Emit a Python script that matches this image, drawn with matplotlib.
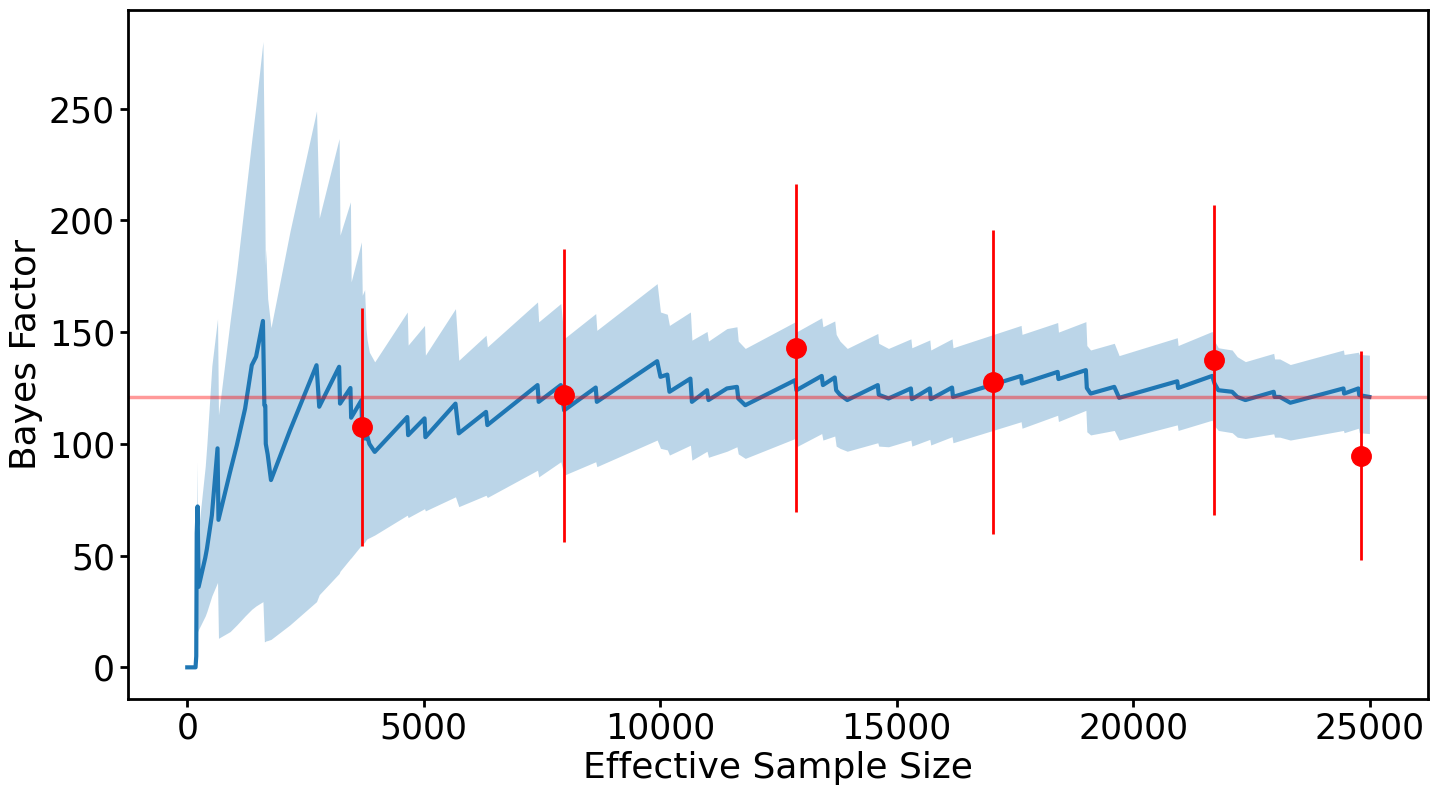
import numpy as np
import matplotlib
matplotlib.use("Agg")
import matplotlib.pyplot as plt

nan = np.nan

# running estimate: effective sample size, Bayes factor, band upper / lower
ess = [0, 175, 190, 200, 218, 240, 380, 415, 520, 640, 660, 906, 1048, 1223, 1364,
       1455, 1600, 1630, 1650, 1660, 1700, 1770, 2171, 2733, 2790, 3211, 3230,
       3450, 3465, 3682, 3700, 3750, 3780, 3800, 3850, 3963, 4652, 4670, 5017,
       5035, 5671, 5741, 6317, 6345, 7406, 7430, 7898, 7968, 8636, 8660, 9935,
       10005, 10150, 10195, 10638, 10670, 10990, 11020, 11411, 11622, 11650,
       11798, 12852, 12880, 13414, 13440, 13690, 13720, 13800, 13955, 14600,
       14620, 14826, 15300, 15320, 15700, 15720, 16170, 16190, 17630, 17650,
       18403, 18420, 19000, 19020, 19100, 19600, 19703, 20932, 20950, 21670,
       21720, 21800, 22092, 22200, 22373, 22971, 22990, 23100, 23322, 24446,
       24460, 24762, 24780, 24994]
bf = [0, 0, 5, 60, 72, 36, 49, 53, 68, 98, 66, 87.5, 99.4, 115.8, 135.2,
      139, 155, 117.3, 117, 100, 95.3, 83.8, 106, 135.2, 116.6, 134.5, 118,
      125, 111.7, 119.5, 106, 102.4, 102.4, 103.9, 100, 96.4, 112, 103.9, 111.4,
      103, 118, 104.7, 114.3, 108.4, 126.3, 118.8, 126.3, 115, 125.2, 118.8, 137,
      130, 131, 123.3, 129.2, 118.8, 124, 119.6, 124.8, 125.5, 120.3,
      117.3, 128.5, 124, 130.4, 126.3, 129.7, 124, 122, 119.6, 126.3,
      122, 120.3, 124.8, 120, 124.8, 120, 125.2, 121, 130.4, 127,
      132.2, 129, 133, 125, 122.5, 125.5, 120.6, 128, 125, 130.4,
      127, 124, 123.3, 121, 119.6, 123.3, 121, 121, 118.4, 124.8,
      122.5, 124.8, 121.8, 121]
bf_hi = [nan, nan, 20, 92, 60, 62, 90, 100, 135, 156, 113, 155, 178, 210, 236,
         252, 280, 226, 180, 187, 165, 152, 195, 249, 201, 236.6, 193.4,
         208.3, 172.5, 190.4, 166.5, 169, 151.6, 147, 141, 136.7, 159, 144.2, 153,
         139.7, 160.5, 137.4, 148.6, 143.4, 163.5, 154.6, 162.8, 147.1, 158.3, 150.8, 171.7,
         159, 158, 153, 159, 146.4, 150.3, 146, 151.6, 152.4, 146,
         142.7, 154.6, 150.1, 156.4, 152.4, 155, 149, 146, 142.7, 149.4,
         145, 142.7, 147, 143, 146.5, 142, 147, 143, 153, 149,
         154.3, 150, 154.7, 144, 142, 145, 139.5, 147.5, 144, 150.3,
         146, 143, 142, 139, 136.8, 140.5, 138, 138, 135.5, 142,
         140, 141, 140, 139.7]
bf_lo = [nan, nan, 14, 15, 16, 17, 23, 25, 32, 38, 13, 16, 19, 23, 26,
         27.5, 29.4, 11.5, 11.5, 11.8, 12, 12.5, 19, 29.4, 32.5, 42, 43,
         48.7, 49, 54.7, 55, 56, 57, 57.5, 58, 59.2, 68.1, 67, 71,
         70, 76.3, 71.9, 77, 76, 88.2, 85.2, 92, 86, 92, 89.8, 101.7,
         98, 97.3, 95, 99.4, 92.7, 96.7, 94, 96.7, 98.7, 95.5,
         93.5, 102.4, 98.7, 104.6, 101.7, 103.5, 99, 98, 96.7, 100.5,
         99, 98.7, 101.7, 99, 102, 99.5, 103.2, 100.5, 109.9, 107,
         112.8, 110, 115, 105.4, 104, 106, 101.7, 108.5, 106, 110.6,
         108, 106, 105, 103, 102.4, 104.5, 103, 103, 101.7, 106,
         105, 107, 105, 104.6]

# independent estimates with error bars
pt_ess = [3700, 7970, 12880, 17030, 21710, 24810]
pt_bf = [107.6, 121.8, 143, 127.8, 137.5, 94.7]
pt_err = [53.3, 65.5, 73.3, 68, 69.2, 46.8]

ref_bf = 121

fig, ax = plt.subplots(figsize=(14.4, 7.93), dpi=100)
fig.subplots_adjust(left=0.089, right=0.992, top=0.987, bottom=0.119)

ax.fill_between(ess, bf_lo, bf_hi, color="tab:blue", alpha=0.3, linewidth=0)
ax.plot(ess, bf, color="tab:blue", linewidth=3)
ax.axhline(ref_bf, color="red", alpha=0.4, linewidth=2.5)
ax.errorbar(pt_ess, pt_bf, yerr=pt_err, fmt="o", color="red",
            markersize=14, elinewidth=2, capsize=0)

ax.set_xlabel("Effective Sample Size", fontsize=26)
ax.set_ylabel("Bayes Factor", fontsize=26)
ax.tick_params(labelsize=25, width=2, length=6)
for s in ax.spines.values():
    s.set_linewidth(2)

fig.savefig("out.png")
